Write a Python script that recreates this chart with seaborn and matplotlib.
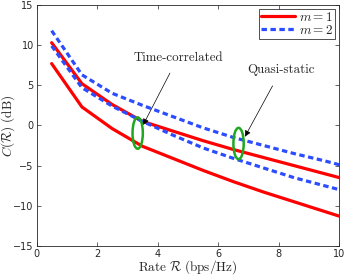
import numpy as np
import pandas as pd
import matplotlib
matplotlib.use("Agg")
import matplotlib.pyplot as plt
import seaborn as sns
from matplotlib.patches import Ellipse
from matplotlib.lines import Line2D

# dados
rate = [0.5, 1.5, 2.5, 3.5, 4.5, 5.5, 6.5, 7.5, 8.5, 9.5, 10]
m1_superior = [10.3, 5.2, 2.6, 0.5, -0.7, -1.9, -3.0, -4.0, -5.0, -6.0, -6.5]
m1_inferior = [7.7, 2.3, -0.4, -2.6, -4.1, -5.6, -7.0, -8.3, -9.5, -10.7, -11.3]
m2_superior = [11.8, 6.3, 4.0, 2.5, 1.1, -0.3, -1.5, -2.5, -3.5, -4.4, -4.9]
m2_inferior = [9.9, 4.7, 2.4, 0.5, -1.2, -2.8, -4.1, -5.3, -6.5, -7.5, -8.0]

rotulos = ["Time-correlated", "Quasi-static"]
elipses_x = [3.34, 6.67]
elipses_y = [-0.95, -2.25]
texto_xy = [(4.67, 8.45), (8.07, 6.85)]
seta_xy = [(3.52, 0.06), (6.88, -1.4)]

linhas = []
for nome, m, valores in [("a", "1", m1_superior), ("b", "1", m1_inferior),
                         ("c", "2", m2_superior), ("d", "2", m2_inferior)]:
    linhas.append(pd.DataFrame({"R": rate, "C": valores, "m": m, "curva": nome}))
df = pd.concat(linhas, ignore_index=True)

sns.set_style("ticks")
plt.rcParams["mathtext.fontset"] = "cm"
plt.rcParams["font.family"] = ["DejaVu Sans"]

cor_vermelha = "#ff0000"
cor_azul = "#2b4cff"

fig = plt.figure(figsize=(3.46, 2.76), dpi=100)
ax = fig.add_axes([0.1055, 0.109, 0.8755, 0.873])

sns.lineplot(data=df, x="R", y="C", hue="m", style="m", units="curva", estimator=None,
             palette={"1": cor_vermelha, "2": cor_azul},
             dashes={"1": "", "2": (1.7, 1.1)}, linewidth=2.3, legend=False, ax=ax)

for ex, ey in zip(elipses_x, elipses_y):
    ax.add_patch(Ellipse((ex, ey), 0.34, 3.9, fill=False, edgecolor="#1fa81f", linewidth=1.8, zorder=5))

for txt, (tx, ty), (sx, sy) in zip(rotulos, texto_xy, seta_xy):
    ax.annotate(txt, xy=(sx, sy), xytext=(tx, ty), ha="center", va="center",
                family="cmr10", fontsize=9.3,
                arrowprops=dict(arrowstyle="-|>", color="black", lw=0.5,
                                mutation_scale=9, shrinkA=5, shrinkB=0))

ax.set_xlim(0, 10)
ax.set_ylim(-15, 15)
ax.set_xticks(np.arange(0, 11, 2))
ax.set_yticks(np.arange(-15, 16, 5))
ax.tick_params(direction="in", top=True, right=True, labelsize=7, length=3, width=0.5, pad=2)
for s in ax.spines.values():
    s.set_linewidth(0.6)
ax.set_xlabel(r"$\mathrm{Rate}\ \mathcal{R}\ \mathrm{(bps/Hz)}$", fontsize=9.5, labelpad=0)
ax.set_ylabel(r"$C(\mathcal{R})\ \mathrm{(dB)}$", fontsize=9.5, labelpad=-2.5)

handles = [Line2D([], [], color=cor_vermelha, lw=2.3),
           Line2D([], [], color=cor_azul, lw=2.3, dashes=(1.7, 1.1))]
leg = ax.legend(handles, [r"$m = 1$", r"$m = 2$"], loc="upper right", fontsize=9.5,
                frameon=True, fancybox=False, edgecolor="black", borderpad=0.15,
                labelspacing=0.0, handlelength=2.6, handletextpad=0.3,
                borderaxespad=0.3)
leg.get_frame().set_linewidth(0.6)

fig.savefig("out.png", dpi=100)
